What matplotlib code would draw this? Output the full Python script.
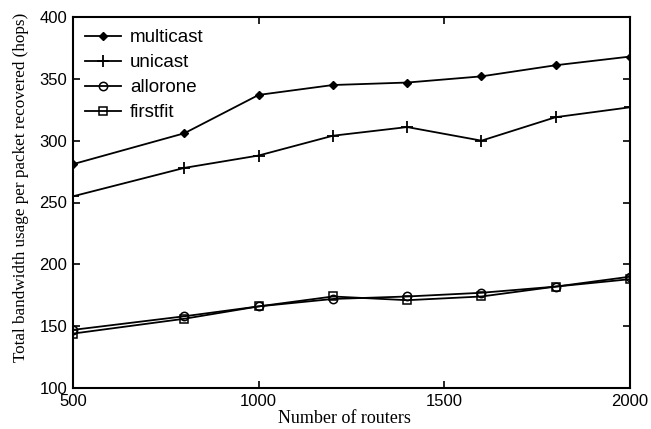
import matplotlib
matplotlib.use("Agg")
import matplotlib.pyplot as plt

routers = [500, 800, 1000, 1200, 1400, 1600, 1800, 2000]
multicast = [281, 306, 337, 345, 347, 352, 361, 368]
unicast = [255, 278, 288, 304, 311, 300, 319, 327]
allorone = [147, 158, 166, 172, 174, 177, 182, 190]
firstfit = [144, 156, 166, 174, 171, 174, 182, 188]

xticks = [500, 1000, 1500, 2000]
yticks = [100, 150, 200, 250, 300, 350, 400]

plt.rcParams['font.family'] = ['Liberation Sans', 'DejaVu Sans']
fig = plt.figure(figsize=(6.51, 4.29), dpi=100)
ax = fig.add_axes([73/651, 1-388/429, (630-73)/651, (388-17)/429])

kw = dict(color='black', linewidth=1.3)
ax.plot(routers, multicast, marker='D', markersize=4.5, markerfacecolor='black', label='multicast', **kw)
ax.plot(routers, unicast, marker='+', markersize=8, markeredgewidth=1.3, label='unicast', **kw)
ax.plot(routers, allorone, marker='o', markersize=6, markerfacecolor='none', markeredgewidth=1.1, label='allorone', **kw)
ax.plot(routers, firstfit, marker='s', markersize=6, markerfacecolor='none', markeredgewidth=1.1, label='firstfit', **kw)

ax.set_xlim(500, 2000)
ax.set_ylim(100, 400)
ax.set_xticks(xticks)
ax.set_yticks(yticks)
ax.tick_params(direction='in', top=True, right=True, length=5, width=1.2, labelsize=12, pad=4)
for s in ax.spines.values():
    s.set_linewidth(1.5)

ax.set_xlabel('Number of routers', family='Liberation Serif', fontsize=13)
ax.xaxis.set_label_coords(0.488, -0.058)
ax.set_ylabel('Total bandwidth usage per packet recovered (hops)', family='Liberation Serif', fontsize=12.3)
ax.yaxis.set_label_coords(-0.079, 0.54)

ax.legend(loc='upper left', frameon=False, fontsize=13.5, handlelength=1.9, labelspacing=0.42,
          borderaxespad=0.35, borderpad=0.3, handletextpad=0.5)

fig.savefig('out.png', dpi=100)
